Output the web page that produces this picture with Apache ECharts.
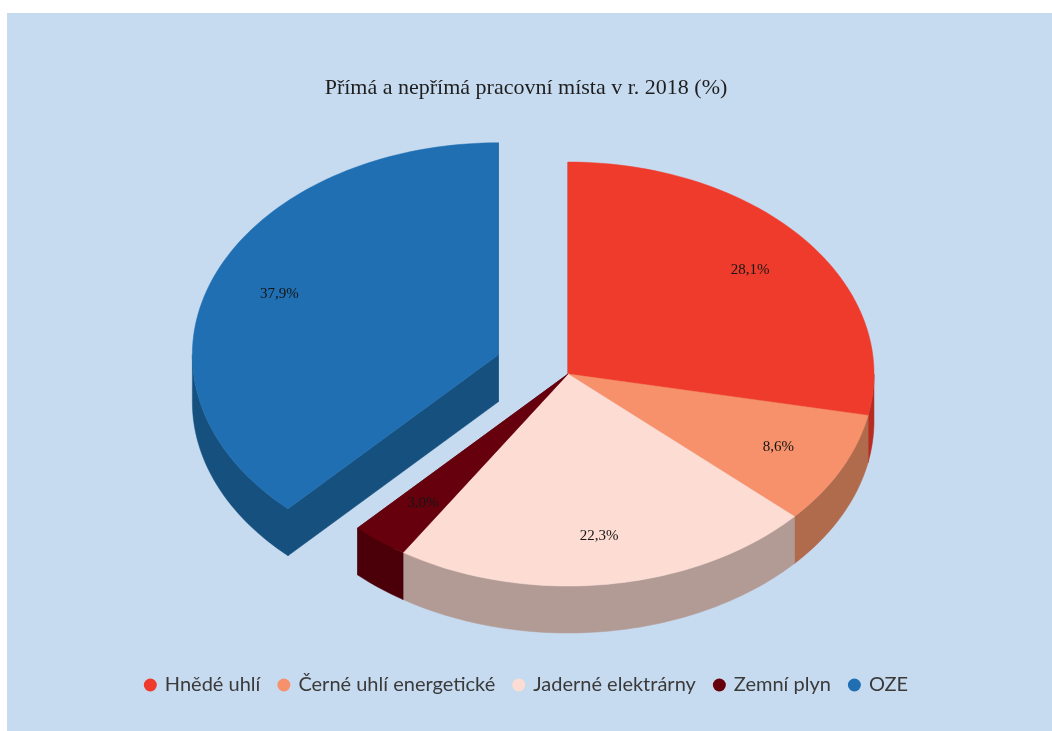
<!DOCTYPE html>
<html><head><meta charset="utf-8">
<script src="https://cdn.jsdelivr.net/npm/echarts/dist/echarts.min.js"></script>
<style>html,body{margin:0;padding:0;background:#fff}#c{width:1052px;height:731px}</style>
</head><body><div id="c"></div>
<script>
// ---- data ----
const title = 'Přímá a nepřímá pracovní místa v r. 2018 (%)';
const categories = ['Hnědé uhlí', 'Černé uhlí energetické', 'Jaderné elektrárny', 'Zemní plyn', 'OZE'];
const values = [28.1, 8.6, 22.3, 3.0, 37.9];
const valueLabels = ['28,1%', '8,6%', '22,3%', '3,0%', '37,9%'];
const exploded = [0, 0, 0, 0, 1];

// ---- styles ----
const topColors = ['#ef3b2c', '#f6916b', '#fddcd3', '#67000d', '#1f6fb2'];
const sideColors = ['#b62c22', '#b06a4c', '#b39b95', '#4b0009', '#16507f'];
const L = { cx: 568, cy: 374, rx: 306, ry: 212, depth: 47, explode: 0.245, labelR: 0.77 };

const total = values.reduce((a, b) => a + b, 0);
function sliceAngles(i) {
  let s = 0;
  for (let k = 0; k < i; k++) s += values[k];
  return [s / total * 360, (s + values[i]) / total * 360];
}
function rad(d) { return d * Math.PI / 180; }
function offsetOf(i) {
  if (!exploded[i]) return [0, 0];
  const [a0, a1] = sliceAngles(i);
  const m = rad((a0 + a1) / 2);
  return [L.explode * L.rx * Math.sin(m), -L.explode * L.ry * Math.cos(m)];
}
function pt(i, deg, r, dz) {
  const o = offsetOf(i);
  const t = rad(deg);
  return [L.cx + o[0] + r * L.rx * Math.sin(t), L.cy + o[1] - r * L.ry * Math.cos(t) + dz];
}
function arc(i, a0, a1, dz) {
  const pts = [];
  const n = Math.max(2, Math.ceil((a1 - a0) / 1.5));
  for (let k = 0; k <= n; k++) pts.push(pt(i, a0 + (a1 - a0) * k / n, 1, dz));
  return pts;
}

function renderFaces(params, api) {
  const i = params.dataIndex;
  const [a0, a1] = sliceAngles(i);
  const children = [a0, a1].map(a => ({
    type: 'polygon',
    shape: { points: [pt(i, a, 0, 0), pt(i, a, 1, 0), pt(i, a, 1, L.depth), pt(i, a, 0, L.depth)] },
    style: { fill: sideColors[i], stroke: sideColors[i], lineWidth: 0.5 }
  }));
  return { type: 'group', children };
}
function renderWalls(params, api) {
  const i = params.dataIndex;
  const [a0, a1] = sliceAngles(i);
  const s = Math.max(a0, 90), e = Math.min(a1, 270);
  if (e <= s) return { type: 'group', children: [] };
  const top = arc(i, s, e, 0);
  const bot = arc(i, s, e, L.depth).reverse();
  return {
    type: 'polygon',
    shape: { points: top.concat(bot) },
    style: { fill: sideColors[i], stroke: sideColors[i], lineWidth: 0.5 }
  };
}
function renderTops(params, api) {
  const i = params.dataIndex;
  const [a0, a1] = sliceAngles(i);
  const pts = [pt(i, 0, 0, 0)].concat(arc(i, a0, a1, 0));
  const lp = pt(i, (a0 + a1) / 2, L.labelR, 0);
  return {
    type: 'group',
    children: [
      { type: 'polygon', shape: { points: pts },
        style: { fill: topColors[i], stroke: topColors[i], lineWidth: 0.5 } },
      { type: 'text', z2: 10, x: lp[0], y: lp[1],
        style: { text: valueLabels[i],
          fill: '#151515', font: '15px "Liberation Serif"', align: 'center', verticalAlign: 'middle' } }
    ]
  };
}

const seriesData = values.map((v, i) => ({ name: categories[i], value: [v, i] }));

const chart = echarts.init(document.getElementById('c'), null, { renderer: 'canvas' });
chart.setOption({
  backgroundColor: '#ffffff',
  animation: false,
  graphic: [{
    type: 'rect', z: -10, silent: true,
    shape: { x: 7, y: 13, width: 1045, height: 718 },
    style: { fill: '#c7dbf0' }
  }],
  title: {
    text: title, left: 'center', top: 72,
    textStyle: { fontFamily: 'Liberation Serif', fontSize: 22, fontWeight: 'normal', color: '#1e1e1e' }
  },
  legend: {
    data: categories, bottom: 31, left: 'center', icon: 'circle',
    itemWidth: 13, itemHeight: 13, itemGap: 17,
    textStyle: { fontFamily: 'Lato', fontSize: 20, color: '#3a3a3a', padding: [0, 0, 0, 3] }
  },
  series: [
    { type: 'pie', radius: [0, 0], center: [L.cx, L.cy], silent: true,
      label: { show: false }, labelLine: { show: false },
      data: values.map((v, i) => ({ name: categories[i], value: v, itemStyle: { color: topColors[i] } })) },
    { type: 'custom', coordinateSystem: 'none', z: 1, silent: true, renderItem: renderFaces, data: seriesData },
    { type: 'custom', coordinateSystem: 'none', z: 2, silent: true, renderItem: renderWalls, data: seriesData },
    { type: 'custom', coordinateSystem: 'none', z: 3, silent: true, renderItem: renderTops, data: seriesData }
  ]
});
</script></body></html>
